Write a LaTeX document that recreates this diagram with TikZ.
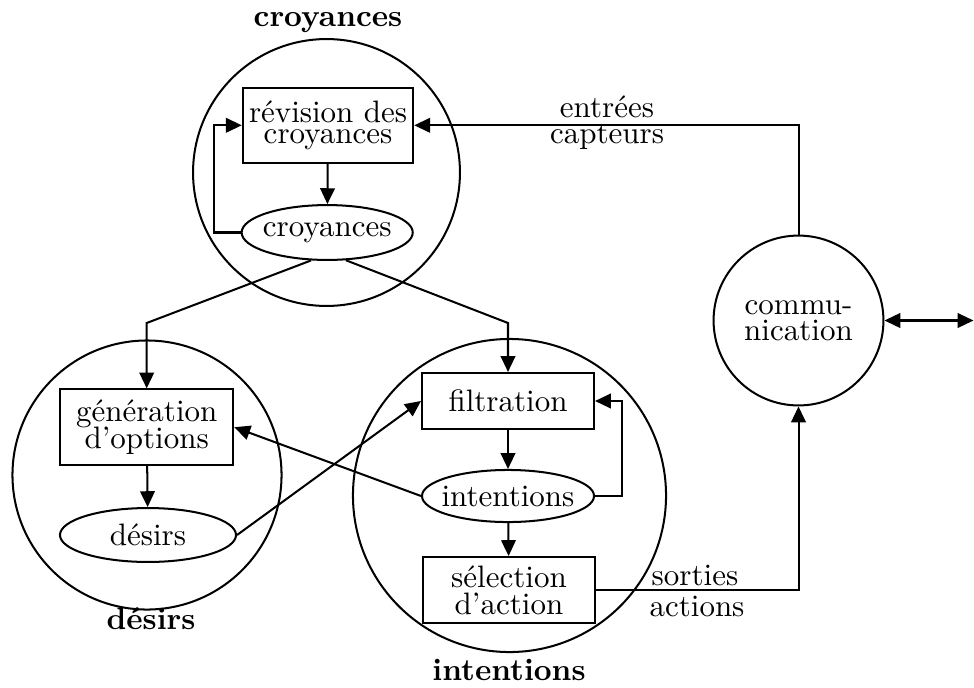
\documentclass[tikz,border=0pt]{standalone}
\usetikzlibrary{arrows.meta,shapes.geometric}
\begin{document}
\begin{tikzpicture}[x=0.3226pt, y=-0.3226pt,
  wire/.style={line width=0.65pt},
  flow/.style={wire, -{Triangle[length=5.1pt,width=4.7pt]}},
  both/.style={wire, {Triangle[length=5.1pt,width=4.7pt]}-{Triangle[length=5.1pt,width=4.7pt]}},
  zone/.style={draw, circle, wire, inner sep=0pt},
  proc/.style={draw, rectangle, wire, inner sep=0pt, align=center},
  store/.style={draw, ellipse, wire, inner sep=0pt},
  tight/.style={font={\fontsize{10pt}{#1}\selectfont\lineskiplimit=-20pt}},
  title/.style={font=\bfseries, anchor=base},
  tag/.style={anchor=base}]
\useasboundingbox (0,0) rectangle (974,687);

% the three attitude zones and the communication module
\node[zone, minimum size=86.1pt]  (zC) at (326.5,172.5) {};
\node[zone, minimum size=86.8pt]  (zD) at (147,475) {};
\node[zone, minimum size=101pt]   (zI) at (509.5,495.5) {};
\node[zone, minimum size=54.8pt, align=center, tight=8.3pt] (comm) at (798.5,320.5) {commu-\\nication};

% zone titles
\node[title] (tC) at (328,26)  {croyances};
\node[title] (tD) at (151,629) {désirs};
\node[title] (tI) at (509,680) {intentions};

% processes
\node[proc, tight=6.5pt, minimum width=55.0pt, minimum height=24.1pt] (rev) at (328,125.3) {révision des\\croyances};
\node[proc, tight=8.6pt, minimum width=55.9pt, minimum height=24.4pt] (gen) at (146.7,427.2) {génération\\d'options};
\node[proc, minimum width=55.5pt, minimum height=18.1pt] (filt) at (508,401) {filtration};
\node[proc, tight=8.8pt, minimum width=55.6pt, minimum height=21.3pt] (sel) at (509,590) {sélection\\d'action};

% stores
\node[store, minimum width=55.2pt, minimum height=17.7pt] (croy) at (327.2,232.5) {\makebox[0pt]{croyances}};
\node[store, minimum width=56.8pt, minimum height=17.4pt] (des) at (148,535) {\makebox[0pt]{désirs}};
\node[store, minimum width=55.5pt, minimum height=16.8pt] (int) at (508,496) {\makebox[0pt]{intentions}};

% bends and the outside end
\coordinate (bendL) at (146.7,323);
\coordinate (bendR) at (508,323);
\coordinate (outside) at (973.5,320.5);

% connectors
\draw[flow] (rev) -- (croy);
\draw[flow] (croy.west) -- ++(-27,0) |- (rev.west);
\draw[flow] (comm.north) |- (rev.east);
\draw[flow] (croy.240) -- (bendL) -- (gen.north);
\draw[flow] (croy.304) -- (bendR) -- (filt.north);
\draw[flow] (gen) -- (des);
\draw[flow] (filt) -- (int);
\draw[flow] (int) -- (sel);
\draw[flow] (int.east) -- ++(27,0) |- (filt.east);
\draw[flow] (int.west) -- (gen.east);
\draw[flow] (des.east) -- (filt.west);
\draw[flow] (sel.east) -| (comm.south);
\draw[both] (comm.east) -- (outside);

% connector labels
\node[tag] (lin1)  at (607,117) {entrées};
\node[tag] (lin2)  at (607,143) {capteurs};
\node[tag] (lout1) at (695,585) {sorties};
\node[tag] (lout2) at (697,616) {actions};
\end{tikzpicture}
\end{document}
